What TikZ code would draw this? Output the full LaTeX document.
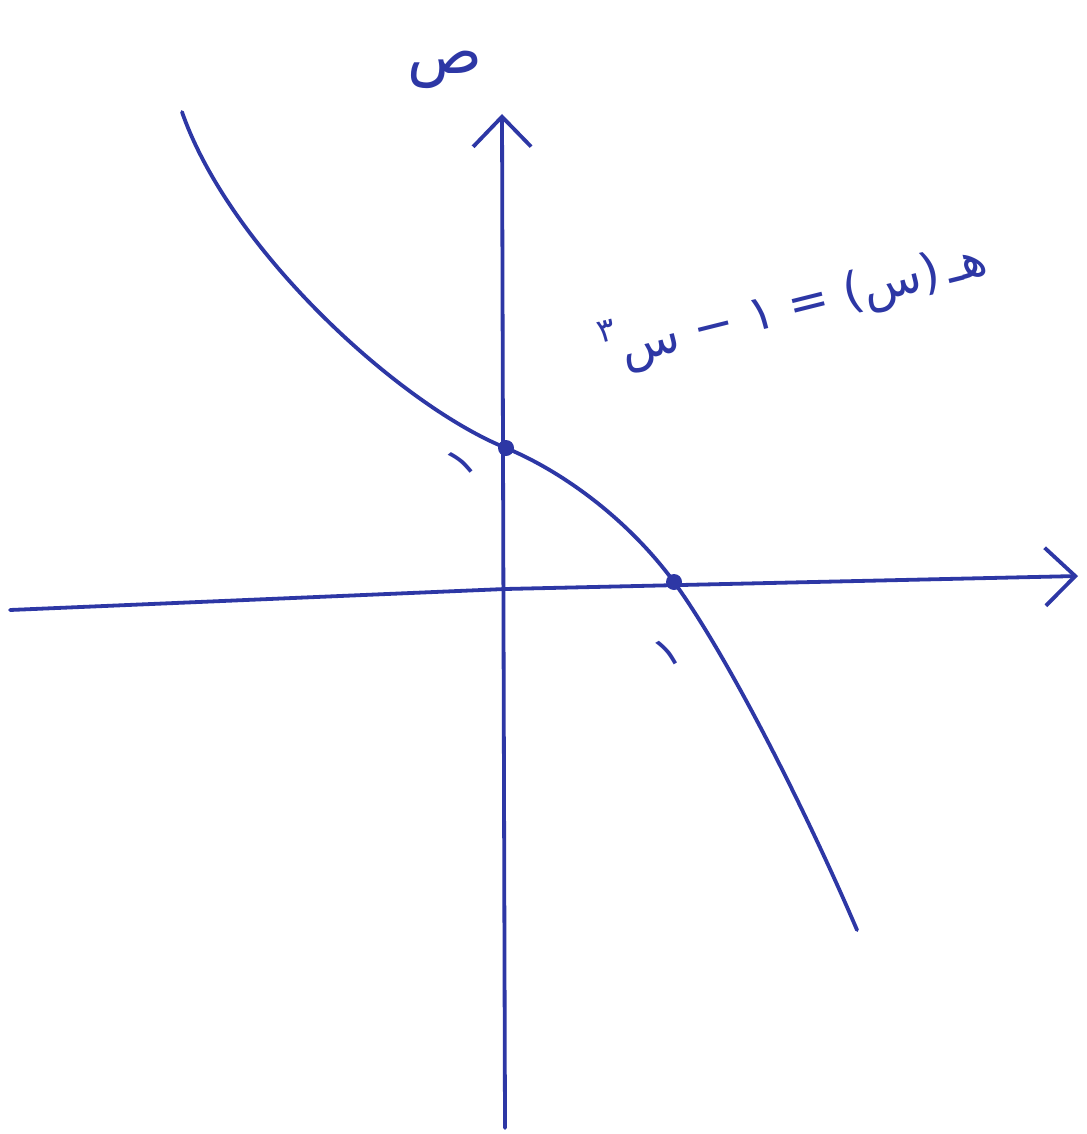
\documentclass[tikz,border=0pt]{standalone}
\usepackage{fontspec}
\newfontfamily\arabicfont[Script=Arabic]{DejaVu Sans}
\TeXXeTstate=1
\usetikzlibrary{arrows.meta}
\definecolor{ink}{RGB}{45,55,165}
\tikzset{
  axis/.style={draw=ink, line width=3.8pt, line cap=round, line join=round, -{Straight Barb[length=30pt,width=58pt,line width=3.8pt]}},
  graphline/.style={draw=ink, line width=3.8pt, line cap=round},
  dotmark/.style={circle, fill=ink, inner sep=0pt, minimum size=16pt},
  lbl/.style={text=ink, font=\arabicfont\fontsize{44}{52}\selectfont}
}
\begin{document}
\begin{tikzpicture}[x=1pt,y=-1pt]
\useasboundingbox[fill=white] (0,0) rectangle (1086,1134);
% axes
\coordinate (ybot) at (505,1128);
\coordinate (ytop) at (502,114);
\coordinate (xleft) at (10,610);
\coordinate (xmid) at (505,589);
\coordinate (xright) at (1078,576);
\draw[axis] (ybot) -- (ytop);
\draw[axis] (xleft) -- (xmid) -- (xright);
% key points
\node[dotmark] (p0) at (506,448) {};
\node[dotmark] (p1) at (674,582) {};
% curve
\coordinate (c0) at (182,112);
\coordinate (d7) at (857,930);
\draw[graphline] (c0) .. controls (230,250) and (400,405) .. (p0.center)
  .. controls (566,473) and (630,522) .. (p1.center)
  .. controls (729,658) and (807,813) .. (d7);
% labels
\node[lbl, font=\arabicfont\fontsize{62}{70}\selectfont] (ylab) at (445,70) {ص};
\node[lbl, rotate=40] (one0) at (462,462) {١};
\node[lbl, rotate=30] (one1) at (668,652) {١};
\node[lbl, rotate=14, font=\arabicfont\fontsize{49}{56}\selectfont] (flab) at (794,304) {\beginR هـ\,(س) = ١ − س\raisebox{0.55em}{\fontsize{33}{38}\selectfont ٣}\endR};
\end{tikzpicture}
\end{document}
